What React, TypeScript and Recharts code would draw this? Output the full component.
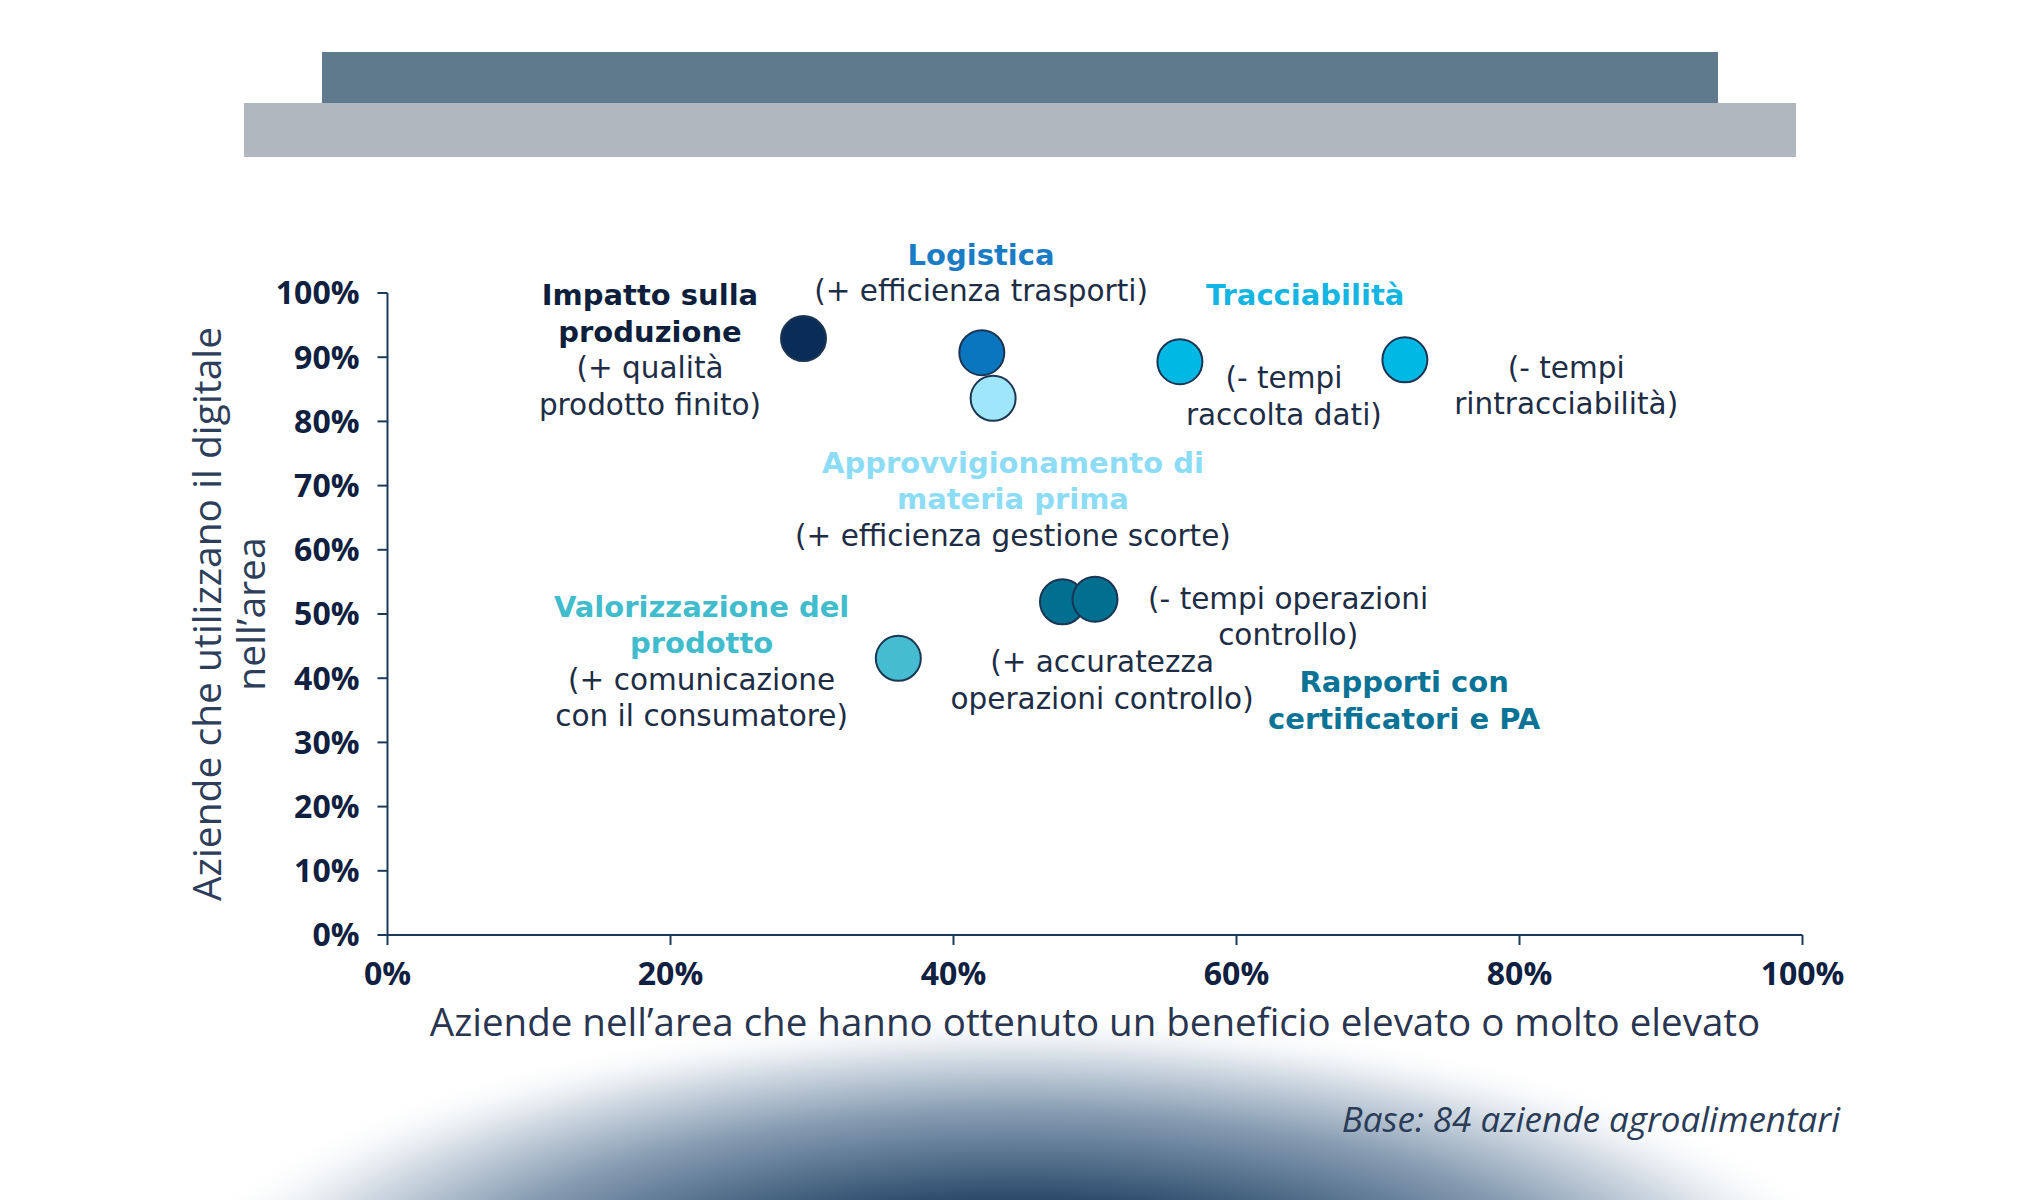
import React from 'react';
import { ScatterChart, Scatter, XAxis, YAxis, ReferenceDot } from 'recharts';

// ---- data (benefit % on X, usage % on Y) ----
const IMPATTO_PTS = [{ benefit: 29.4, usage: 92.9 }];
const LOGISTICA_PTS = [{ benefit: 42.0, usage: 90.7 }];
const APPROVV_PTS = [{ benefit: 42.8, usage: 83.6 }];
const TRACCIABILITA_PTS = [
  { benefit: 56.0, usage: 89.3 },
  { benefit: 71.9, usage: 89.6 },
];
const RAPPORTI_PTS = [
  { benefit: 47.7, usage: 51.9 },
  { benefit: 50.0, usage: 52.3 },
];
const VALORIZZAZIONE_PTS = [{ benefit: 36.1, usage: 43.1 }];

const X_TICKS = [0, 20, 40, 60, 80, 100];
const Y_TICKS = [0, 10, 20, 30, 40, 50, 60, 70, 80, 90, 100];

const X_TITLE = 'Aziende nell\u2019area che hanno ottenuto un beneficio elevato o molto elevato';
const Y_TITLE_1 = 'Aziende che utilizzano il digitale';
const Y_TITLE_2 = 'nell\u2019area';
const FOOTNOTE = 'Base: 84 aziende agroalimentari';

// annotation blocks: anchor (first line centre) in data units, lines [text, bold?]
const ANNOTATIONS: { x: number; y: number; color: string; lines: [string, boolean][] }[] = [
  { x: 41.95, y: 105.95, color: '#1a7cc4', lines: [['Logistica', true], ['(+ efficienza trasporti)', false]] },
  {
    x: 18.55, y: 99.65, color: '#0d1f3c',
    lines: [['Impatto sulla', true], ['produzione', true], ['(+ qualità', false], ['prodotto finito)', false]],
  },
  { x: 64.85, y: 99.65, color: '#13b5e3', lines: [['Tracciabilità', true]] },
  { x: 63.35, y: 86.75, color: '#13b5e3', lines: [['(- tempi', false], ['raccolta dati)', false]] },
  { x: 83.3, y: 88.35, color: '#13b5e3', lines: [['(- tempi', false], ['rintracciabilità)', false]] },
  {
    x: 44.2, y: 73.55, color: '#8ddcf5',
    lines: [['Approvvigionamento di', true], ['materia prima', true], ['(+ efficienza gestione scorte)', false]],
  },
  {
    x: 22.2, y: 51.15, color: '#40bccc',
    lines: [['Valorizzazione del', true], ['prodotto', true], ['(+ comunicazione', false], ['con il consumatore)', false]],
  },
  { x: 63.65, y: 52.35, color: '#0a7396', lines: [['(- tempi operazioni', false], ['controllo)', false]] },
  { x: 50.5, y: 42.45, color: '#0a7396', lines: [['(+ accuratezza', false], ['operazioni controllo)', false]] },
  { x: 71.85, y: 39.35, color: '#0a7396', lines: [['Rapporti con', true], ['certificatori e PA', true]] },
];

const FONT = '"Open Sans", "Noto Sans", sans-serif';
const NOTE_FONT = '"DejaVu Sans", "Open Sans", sans-serif';
const AXIS_COLOR = '#1b3a5c';
const TEXT_DARK = '#1d2d45';
const LINE_H = 36.5;

const dot = (fill: string) => (p: any) => (
  <circle cx={p.cx} cy={p.cy} r={22.5} fill={fill} stroke="#1c3553" strokeWidth={2} />
);

const annotationShape = (a: (typeof ANNOTATIONS)[number]) => (p: any) => (
  <g>
    {a.lines.map(([t, bold], i) => (
      <text
        key={i}
        x={p.cx}
        y={p.cy + i * LINE_H}
        textAnchor="middle"
        dominantBaseline="central"
        fontFamily={NOTE_FONT}
        fontSize={bold ? 29 : 29.5}
        fontWeight={bold ? 700 : 400}
        fill={bold ? a.color : TEXT_DARK}
      >
        {t}
      </text>
    ))}
  </g>
);

const tickStyle = { fill: '#0f2040', fontSize: 32, fontWeight: 700, fontFamily: FONT };

export default function App() {
  return (
    <div style={{ position: 'absolute', left: 0, top: 0, width: 2040, height: 1200, overflow: 'hidden', background: '#fff' }}>
      <svg width={2040} height={1200} style={{ position: 'absolute', left: 0, top: 0 }}>
        <defs>
          <radialGradient id="bottomGlow" cx="0.5" cy="0.5" r="0.5">
            <stop offset="0" stopColor="#1a3a5c" />
            <stop offset="0.4" stopColor="#284869" />
            <stop offset="0.68" stopColor="#859bb1" />
            <stop offset="0.87" stopColor="#dce3ea" />
            <stop offset="1" stopColor="#ffffff" stopOpacity="0" />
          </radialGradient>
        </defs>
        <ellipse cx={1016} cy={1330} rx={880} ry={320} fill="url(#bottomGlow)" />
        <rect x={322} y={52} width={1396} height={52} fill="#5e7a8c" />
        <rect x={244} y={103} width={1552} height={54} fill="#b1b7be" />
        <text
          x={1095}
          y={1021}
          textAnchor="middle"
          dominantBaseline="central"
          fontFamily={FONT}
          fontSize={38.5}
          fill="#2a3550"
        >
          {X_TITLE}
        </text>
        <text
          x={205}
          y={614}
          transform="rotate(-90 205 614)"
          textAnchor="middle"
          dominantBaseline="central"
          fontFamily={FONT}
          fontSize={39}
          fill="#2c3e5a"
        >
          <tspan x={205} dy={0}>{Y_TITLE_1}</tspan>
          <tspan x={205} dy={44}>{Y_TITLE_2}</tspan>
        </text>
        <text
          x={1840}
          y={1118}
          textAnchor="end"
          dominantBaseline="central"
          fontFamily={FONT}
          fontStyle="italic"
          fontSize={35}
          fill="#2a3c58"
        >
          {FOOTNOTE}
        </text>
      </svg>
      <div style={{ position: 'absolute', left: 0, top: 0 }}>
        <ScatterChart width={2040} height={1200} margin={{ top: 293, right: 237.5, bottom: 205, left: 287.5 }}>
          <XAxis
            type="number"
            dataKey="benefit"
            domain={[0, 100]}
            ticks={X_TICKS}
            tickFormatter={(v: number) => `${v}%`}
            height={60}
            axisLine={{ stroke: AXIS_COLOR, strokeWidth: 2 }}
            tickLine={{ stroke: AXIS_COLOR, strokeWidth: 2 }}
            tickSize={10}
            tickMargin={17}
            tick={tickStyle}
            interval={0}
          />
          <YAxis
            type="number"
            dataKey="usage"
            domain={[0, 100]}
            ticks={Y_TICKS}
            tickFormatter={(v: number) => `${v}%`}
            width={100}
            axisLine={{ stroke: AXIS_COLOR, strokeWidth: 2 }}
            tickLine={{ stroke: AXIS_COLOR, strokeWidth: 2 }}
            tickSize={10}
            tickMargin={18}
            tick={tickStyle}
            interval={0}
          />
          <Scatter name="Impatto sulla produzione" data={IMPATTO_PTS} shape={dot('#0a2d57')} isAnimationActive={false} />
          <Scatter name="Logistica" data={LOGISTICA_PTS} shape={dot('#0a76bf')} isAnimationActive={false} />
          <Scatter name="Approvvigionamento di materia prima" data={APPROVV_PTS} shape={dot('#a0e6fa')} isAnimationActive={false} />
          <Scatter name="Tracciabilità" data={TRACCIABILITA_PTS} shape={dot('#00b8e4')} isAnimationActive={false} />
          <Scatter name="Rapporti con certificatori e PA" data={RAPPORTI_PTS} shape={dot('#006f90')} isAnimationActive={false} />
          <Scatter name="Valorizzazione del prodotto" data={VALORIZZAZIONE_PTS} shape={dot('#45bccf')} isAnimationActive={false} />
          {ANNOTATIONS.map((a, i) => (
            <ReferenceDot key={i} x={a.x} y={a.y} r={0} ifOverflow="visible" shape={annotationShape(a)} />
          ))}
        </ScatterChart>
      </div>
    </div>
  );
}
